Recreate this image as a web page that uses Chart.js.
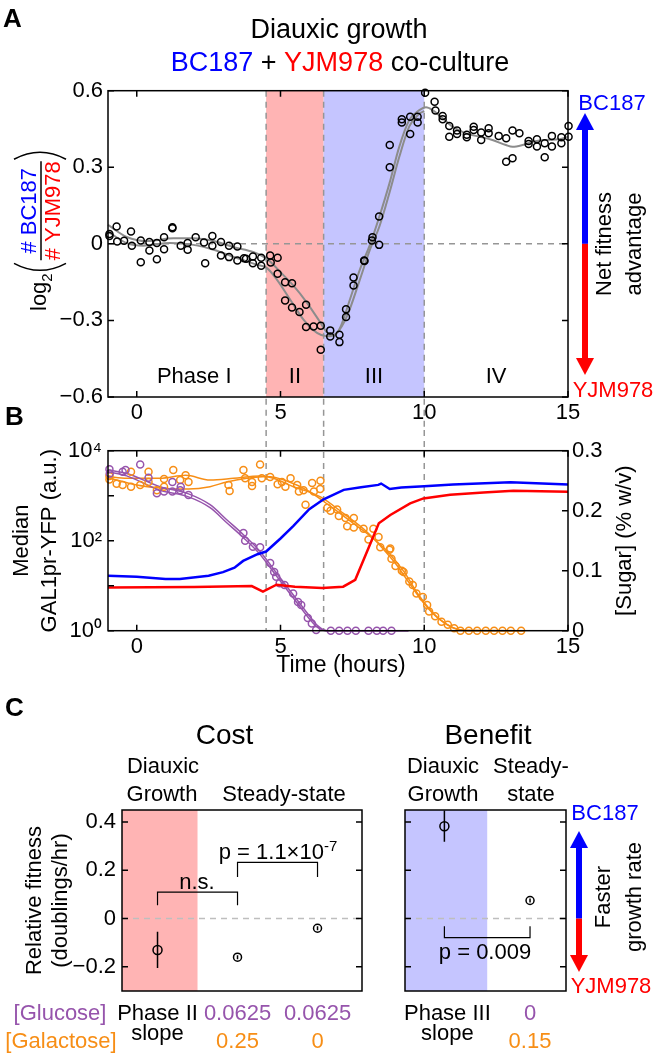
<!DOCTYPE html>
<html>
<head>
<meta charset="utf-8">
<script src="https://cdn.jsdelivr.net/npm/chart.js@4.4.0/dist/chart.umd.min.js"></script>
<style>
body{margin:0;background:#fff;}
#wrap{position:relative;width:656px;height:1058px;overflow:hidden;}
canvas{position:absolute;left:0;}
</style>
</head>
<body>
<div id="wrap">
<canvas id="cA" width="656" height="430" style="top:0px"></canvas>
<canvas id="cB" width="656" height="260" style="top:430px"></canvas>
<canvas id="cC1" width="656" height="368" style="top:690px"></canvas>
<canvas id="cC2" width="656" height="368" style="top:690px"></canvas>
</div>
<script>
// ---- panel A: log2(#BC187/#YJM978), two replicate co-cultures ----
var repT1=[-0.95,-0.70,-0.44,-0.20,0.14,0.44,0.70,0.95,1.24,1.53,1.77,2.05,2.34,2.63,2.93,3.21,3.50,3.80,4.04,4.33,4.64,4.90,5.16,5.40,5.66,5.89,6.15,6.40,6.73,7.05,7.28,7.54,7.91,8.20,8.43,8.80,9.22,9.51,9.77,10.03,10.36,10.64,10.87,11.14,11.48,11.72,11.98,12.24,12.59,12.85,13.07,13.31,13.63,13.92,14.19,14.44,14.77,15.02];
var repR1=[0.039,0.068,0.012,0.048,0.013,0.007,0.003,0.026,0.065,-0.007,0.003,0.026,0.005,0.031,0.007,-0.007,-0.010,-0.058,-0.050,-0.054,-0.046,-0.054,-0.150,-0.154,-0.267,-0.239,-0.324,-0.321,-0.339,-0.356,-0.256,-0.132,-0.065,0.026,0.107,0.387,0.488,0.498,0.498,0.592,0.557,0.501,0.462,0.444,0.427,0.459,0.436,0.453,0.423,0.414,0.444,0.433,0.403,0.410,0.394,0.423,0.418,0.462];
var repT2=[-0.95,-0.68,-0.17,0.14,0.44,0.70,0.95,1.24,1.77,2.38,2.63,2.93,3.21,3.50,3.73,4.04,4.33,4.66,4.90,5.16,5.40,5.89,6.40,6.73,7.05,7.28,7.54,7.92,8.18,8.43,8.80,9.22,9.51,9.77,10.39,10.64,10.87,11.14,11.48,11.72,11.98,12.24,12.85,13.07,13.63,13.92,14.19,14.44,14.77,15.02];
var repR2=[0.031,0.009,-0.007,-0.072,-0.026,-0.060,-0.021,0.061,-0.023,-0.076,-0.007,-0.046,-0.052,-0.065,-0.056,-0.076,-0.086,-0.073,-0.117,-0.222,-0.249,-0.326,-0.415,-0.363,-0.385,-0.287,-0.163,-0.067,0.013,-0.004,0.300,0.475,0.430,0.475,0.522,0.488,0.420,0.430,0.418,0.446,0.407,0.433,0.322,0.335,0.391,0.381,0.339,0.381,0.394,0.420];
var fitT1=[-1,-0.35,0.35,1.28,1.97,2.67,3.37,4.07,4.53,5.0,5.45,5.91,6.38,6.61,6.84,7.08,7.42,7.77,8.12,8.44,8.79,9.13,9.48,9.83,10.06,10.29,10.64,10.98,11.44,11.91,12.37,12.84,13.07,13.42,13.77,14.23,14.7,15];
var fitR1=[0.074,0.027,0.011,0.022,0.022,0.011,-0.013,-0.033,-0.059,-0.111,-0.164,-0.229,-0.307,-0.346,-0.359,-0.327,-0.216,-0.098,-0.001,0.107,0.237,0.38,0.485,0.524,0.535,0.524,0.492,0.459,0.433,0.42,0.407,0.387,0.38,0.387,0.4,0.407,0.41,0.42];
var fitT2=[-1,-0.35,0.23,1.16,1.97,2.67,3.49,4.18,4.53,4.88,5.34,5.8,6.27,6.61,6.96,7.31,7.77,8.12,8.44,8.79,9.13,9.48,9.83,10.0];
var fitR2=[0.048,0.003,-0.007,0.003,-0.004,-0.023,-0.056,-0.082,-0.095,-0.141,-0.219,-0.297,-0.349,-0.362,-0.349,-0.284,-0.137,-0.02,0.068,0.2,0.34,0.46,0.51,0.52];
var phaseEdges=[-1,4.5,6.5,10,15];
var phaseNames=['Phase I','II','III','IV'];
var phaseTextX=[2,5.5,8.25,12.5];
var timeTicks=[0,5,10,15];
var aYTicks=[-0.6,-0.3,0,0.3,0.6];
var aYLabels=['\u22120.6','\u22120.3','0','0.3','0.6'];

// ---- panel B: GAL1pr-YFP (left, log) and sugars (right, % w/v) ----
var bcT=[-1,0,1,1.5,2.5,3,3.4,3.7,4.2,4.5,5,5.45,6,6.5,7.2,7.8,8.4,8.5,8.8,9.2,10,11,13,15];
var bcYfp=[16.6,15.8,14.1,14.1,16.6,20,25.1,35.5,50.1,57.5,112,214,501,832,1349,1549,1738,1862,1413,1514,1622,1778,1995,1778];
var yjmT=[-1,2,4.0,4.39,4.86,5.5,6.45,7.18,7.6,8.42,8.82,9.51,9.97,10.9,12.06,13.1,15];
var yjmYfp=[9.1,9.3,9.8,7.4,10.5,9.5,8.9,9.5,13.5,245,372,676,871,1047,1175,1288,1230];
var gluT1=[-0.95,-0.49,0.12,0.41,0.95,1.24,1.51,1.80,3.71,4.04,4.64,4.97,5.44,5.72,6.09,6.75,7.33,8.06,8.57];
var glu1=[0.269,0.265,0.277,0.255,0.232,0.248,0.234,0.226,0.163,0.140,0.113,0.079,0.062,0.043,0.012,0,0,0,0];
var gluT2=[-0.94,-0.39,0.70,1.24,1.53,3.77,4.29,4.78,4.85,5.14,5.61,5.95,6.24,7.04,7.62,8.35,8.86];
var glu2=[0.262,0.268,0.229,0.232,0.240,0.150,0.139,0.098,0.090,0.076,0.048,0.021,0.001,0,0,0,0];
var gluFitT=[-1,-0.35,0.81,1.8,2.55,3.13,3.71,4.29,4.8,5.2,5.6,6.0,6.3,6.6,9.45];
var gluFit1=[0.265,0.258,0.234,0.223,0.205,0.180,0.155,0.127,0.095,0.070,0.045,0.020,0.005,0,0];
var gluFit2=[0.268,0.262,0.240,0.228,0.210,0.185,0.160,0.132,0.100,0.075,0.050,0.025,0.008,0,0];
var galT1=[-0.95,-0.49,-0.20,0.12,0.41,0.70,0.95,1.27,1.51,1.80,3.19,3.71,4.01,4.29,4.64,4.90,5.17,5.58,5.87,6.10,6.39,6.63,6.97,7.26,7.55,7.89,8.23,8.47,8.82,9.00,9.28,9.60,9.95,10.17,10.60,11.04,11.26,11.84,12.43,13.01];
var gal1=[0.258,0.243,0.265,0.243,0.265,0.234,0.253,0.268,0.251,0.248,0.243,0.268,0.248,0.277,0.256,0.244,0.240,0.243,0.210,0.246,0.250,0.205,0.202,0.188,0.188,0.170,0.170,0.139,0.137,0.108,0.098,0.076,0.056,0.032,0.015,0.004,0,0,0,0];
var galT2=[-0.95,-0.70,-0.20,0.41,0.95,1.70,3.23,3.77,4.01,4.35,5.05,5.35,5.64,5.80,6.16,6.38,6.74,7.03,7.32,7.55,8.06,8.41,8.79,8.86,9.22,9.48,9.73,10.10,10.38,10.82,11.55,12.14,12.72,13.37];
var gal2=[0.252,0.245,0.240,0.248,0.240,0.259,0.233,0.254,0.241,0.254,0.248,0.254,0.232,0.234,0.232,0.236,0.200,0.191,0.174,0.172,0.152,0.156,0.135,0.120,0.100,0.082,0.062,0.043,0.024,0.010,0,0,0,0];
var galFitT1=[-1,-0.35,0.81,1.7,2.55,3.37,4.29,4.75,5.45,6.39,7.2,8.0,8.5,9.0,9.5,10.0,10.5,11.0,11.5,13.5];
var galFit1=[0.257,0.254,0.254,0.259,0.251,0.254,0.258,0.254,0.240,0.223,0.195,0.165,0.140,0.112,0.078,0.045,0.020,0.005,0,0];
var galFitT2=[-1,0,0.81,1.8,2.55,3.13,3.83,4.52,5.2,6.0,6.8,7.5,8.2,8.8,9.3,9.8,10.3,10.8,11.3,13.5];
var galFit2=[0.255,0.243,0.238,0.236,0.240,0.248,0.254,0.257,0.250,0.232,0.205,0.180,0.155,0.128,0.098,0.060,0.030,0.010,0.001,0];
var yfpTicks=[1,100,10000];
var yfpLabels=['10\u2070','10\u00b2','10\u2074'];
var yfpMinor=[10,1000];
var sugarTicks=[0,0.1,0.2,0.3];
var sugarLabels=['0','0.1','0.2','0.3'];

// ---- panel C: relative fitness ----
var costX=[1,2,3];
var costFit=[-0.13,-0.16,-0.04];
var costErr=[0.075,0.008,0.008];
var costGlucose=['Phase II','0.0625','0.0625'];
var costGalactose=['slope','0.25','0'];
var benefitX=[1,2];
var benefitFit=[0.383,0.075];
var benefitErr=[0.065,0.008];
var benefitGlucose=['Phase III','0'];
var benefitGalactose=['slope','0.15'];
var cYTicks=[-0.2,0,0.2,0.4];
var cYLabels=['\u22120.2','0','0.2','0.4'];

var FAM='"Liberation Sans", Arial, Helvetica, sans-serif';
var BLUE='#0000ff', RED='#ff0000', GREY='rgb(140,140,140)', DASHC='rgb(150,150,150)';
var PURPLE='rgb(150,84,172)', ORANGE='rgb(247,142,22)';
var PINK='rgb(255,180,180)', LILAC='rgb(197,197,255)';

function F(sz,b){return (b?'bold ':'')+sz+'px '+FAM;}
function pts(xs,ys){return xs.map(function(x,i){return {x:x,y:ys[i]};});}
function fix(vals){return function(s){s.ticks=vals.map(function(v){return {value:v};});};}
function lab(vals,labels){return function(v){var i=vals.indexOf(v);return i<0?'':labels[i];};}
function circles(d,col,r,axis){return {data:d,showLine:false,pointRadius:r||3.5,pointBorderWidth:1.5,pointBorderColor:col,pointBackgroundColor:'rgba(0,0,0,0)',borderColor:col,clip:false,yAxisID:axis||'y'};}
function curve(d,col,w,axis,smooth){return {data:d,showLine:true,pointRadius:0,borderColor:col,borderWidth:w,cubicInterpolationMode:smooth?'monotone':'default',tension:0,clip:false,yAxisID:axis||'y'};}

function txt(ctx,s,x,y,font,col,align){ctx.save();ctx.font=font;ctx.fillStyle=col||'#000';ctx.textAlign=align||'center';ctx.textBaseline='alphabetic';ctx.fillText(s,x,y);ctx.restore();}
function vtxt(ctx,s,x,y,font,col){ctx.save();ctx.translate(x,y);ctx.rotate(-Math.PI/2);ctx.font=font;ctx.fillStyle=col||'#000';ctx.textAlign='center';ctx.textBaseline='alphabetic';ctx.fillText(s,0,0);ctx.restore();}
function rich(ctx,parts,x,y){
  ctx.save();var w=0;
  parts.forEach(function(p){ctx.font=p[2];w+=ctx.measureText(p[0]).width;});
  var cx=x-w/2;
  parts.forEach(function(p){ctx.font=p[2];ctx.fillStyle=p[1];ctx.textAlign='left';ctx.textBaseline='alphabetic';ctx.fillText(p[0],cx,y+(p[3]||0));cx+=ctx.measureText(p[0]).width;});
  ctx.restore();
}
function dashed(ctx,x0,y0,x1,y1,col,w){ctx.save();ctx.strokeStyle=col;ctx.lineWidth=w||1.5;ctx.setLineDash([6,5]);ctx.beginPath();ctx.moveTo(x0,y0);ctx.lineTo(x1,y1);ctx.stroke();ctx.restore();}
function vArrow(ctx,x,yTop,yMid,yBot){
  var hw=9,hl=17,sw=6;
  ctx.save();ctx.fillStyle=BLUE;
  ctx.fillRect(x-sw/2,yTop+hl-1,sw,yMid-yTop-hl+1);
  ctx.beginPath();ctx.moveTo(x,yTop);ctx.lineTo(x-hw,yTop+hl);ctx.lineTo(x+hw,yTop+hl);ctx.closePath();ctx.fill();
  ctx.fillStyle=RED;
  ctx.fillRect(x-sw/2,yMid,sw,yBot-hl-yMid+1);
  ctx.beginPath();ctx.moveTo(x,yBot);ctx.lineTo(x-hw,yBot-hl);ctx.lineTo(x+hw,yBot-hl);ctx.closePath();ctx.fill();
  ctx.restore();
}
// box round the plot area plus inward MATLAB-style ticks
function box(c,xs,yl,yr){
  var ctx=c.ctx,a=c.chartArea,L=6;
  ctx.save();ctx.strokeStyle='#000';ctx.lineWidth=1.5;
  ctx.strokeRect(a.left,a.top,a.right-a.left,a.bottom-a.top);
  ctx.beginPath();
  (xs||[]).forEach(function(v){var p=c.scales.x.getPixelForValue(v);ctx.moveTo(p,a.bottom);ctx.lineTo(p,a.bottom-L);ctx.moveTo(p,a.top);ctx.lineTo(p,a.top+L);});
  if(yl){yl[1].forEach(function(v){var p=c.scales[yl[0]].getPixelForValue(v);ctx.moveTo(a.left,p);ctx.lineTo(a.left+L,p);});}
  if(yr){yr[1].forEach(function(v){var p=c.scales[yr[0]].getPixelForValue(v);ctx.moveTo(a.right,p);ctx.lineTo(a.right-L,p);});}
  ctx.stroke();ctx.restore();
}
function paren(ctx,u,v0,v1,dir){
  var m=(v0+v1)/2;ctx.beginPath();
  if(dir>0){ctx.moveTo(u+7,v0);ctx.quadraticCurveTo(u-7,m,u+7,v1);}
  else{ctx.moveTo(u,v0);ctx.quadraticCurveTo(u+14,m,u,v1);}
  ctx.stroke();
}
var tickFont={size:22,family:FAM};

// ---------------- panel A ----------------
var panelA={id:'panelA',
  beforeDraw:function(c){
    var ctx=c.ctx,a=c.chartArea,x=c.scales.x,y=c.scales.y;
    for(var i=0;i<phaseNames.length;i++){
      var fill=[null,PINK,LILAC,null][i];
      if(fill){var x0=x.getPixelForValue(phaseEdges[i]),x1=x.getPixelForValue(phaseEdges[i+1]);ctx.fillStyle=fill;ctx.fillRect(x0,a.top,x1-x0,a.bottom-a.top);}
    }
    var z=y.getPixelForValue(0);
    dashed(ctx,a.left,z,a.right,z,DASHC);
    [phaseEdges[1],phaseEdges[2],phaseEdges[3]].forEach(function(v){var p=x.getPixelForValue(v);dashed(ctx,p,a.top,p,c.height,DASHC);});
  },
  afterDatasetsDraw:function(c){box(c,timeTicks,['y',aYTicks],['y',aYTicks]);},
  afterDraw:function(c){
    var ctx=c.ctx,x=c.scales.x;
    txt(ctx,'A',3,27,F(26,true),'#000','left');
    txt(ctx,'B',5,425,F(26,true),'#000','left');
    txt(ctx,'Diauxic growth',339,38,F(27));
    rich(ctx,[['BC187',BLUE,F(27)],[' + ','#000',F(27)],['YJM978',RED,F(27)],[' co-culture','#000',F(27)]],340,71);
    phaseNames.forEach(function(n,i){txt(ctx,n,x.getPixelForValue(phaseTextX[i]),383,F(22));});
    vArrow(ctx,585,113,c.scales.y.getPixelForValue(0),375);
    txt(ctx,'BC187',612,110,F(22),BLUE);
    txt(ctx,'YJM978',613,397,F(22),RED);
    vtxt(ctx,'Net fitness',611,244,F(22));
    vtxt(ctx,'advantage',641,244,F(22));
    // y label: log2( #BC187 / #YJM978 )
    ctx.save();ctx.translate(0,244);ctx.rotate(-Math.PI/2);
    ctx.textAlign='left';ctx.textBaseline='alphabetic';ctx.fillStyle='#000';ctx.strokeStyle='#000';ctx.lineWidth=1.5;
    var u=-67;
    ctx.font=F(22);ctx.fillText('log',u,46);u+=ctx.measureText('log').width;
    ctx.font=F(15);ctx.fillText('2',u,52);u+=ctx.measureText('2').width+3;
    paren(ctx,u,14,66,1);u+=10;
    ctx.font=F(22);
    var w1=ctx.measureText('# BC187').width,w2=ctx.measureText('# YJM978').width,w=Math.max(w1,w2);
    ctx.fillStyle=BLUE;ctx.fillText('# BC187',u+(w-w1)/2,36);
    ctx.fillStyle=RED;ctx.fillText('# YJM978',u+(w-w2)/2,60);
    ctx.beginPath();ctx.moveTo(u,41);ctx.lineTo(u+w,41);ctx.stroke();
    u+=w+2;paren(ctx,u,14,66,-1);
    ctx.restore();
  }
};
new Chart(document.getElementById('cA'),{
  type:'scatter',
  data:{datasets:[
    circles(pts(repT1,repR1),'#000'),
    circles(pts(repT2,repR2),'#000'),
    curve(pts(fitT1,fitR1),GREY,2,'y',true),
    curve(pts(fitT2,fitR2),GREY,2,'y',true)
  ]},
  options:{
    responsive:false,animation:false,events:[],
    layout:{padding:{left:0,top:90.7,right:88,bottom:0}},
    plugins:{legend:{display:false},tooltip:{enabled:false}},
    scales:{
      x:{type:'linear',min:-1,max:15,afterBuildTicks:fix(timeTicks),afterFit:function(s){s.height=33;},
        grid:{display:false,drawTicks:false},border:{display:false},
        ticks:{font:tickFont,color:'#000',padding:3,maxRotation:0,autoSkip:false}},
      y:{type:'linear',min:-0.6,max:0.6,afterBuildTicks:fix(aYTicks),afterFit:function(s){s.width=108;},
        grid:{display:false,drawTicks:false},border:{display:false},
        ticks:{font:tickFont,color:'#000',padding:5,autoSkip:false,callback:lab(aYTicks,aYLabels)}}
    }
  },
  plugins:[panelA]
});

// ---------------- panel B ----------------
var TOPB=430;
var panelB={id:'panelB',
  beforeDraw:function(c){
    var ctx=c.ctx,a=c.chartArea,x=c.scales.x;
    [phaseEdges[1],phaseEdges[2],phaseEdges[3]].forEach(function(v){var p=x.getPixelForValue(v);dashed(ctx,p,0,p,a.bottom,DASHC);});
  },
  afterDatasetsDraw:function(c){box(c,timeTicks,['y',yfpTicks.concat(yfpMinor)],['y2',sugarTicks]);},
  afterDraw:function(c){
    var ctx=c.ctx;ctx.save();ctx.translate(0,-TOPB);
    txt(ctx,'Time (hours)',341,672,F(23));
    vtxt(ctx,'Median',28,540.7,F(22));
    vtxt(ctx,'GAL1pr-YFP (a.u.)',56,540.7,F(22));
    vtxt(ctx,'[Sugar] (% w/v)',631,540.7,F(22));
    ctx.restore();
  }
};
new Chart(document.getElementById('cB'),{
  type:'scatter',
  data:{datasets:[
    curve(pts(bcT,bcYfp),BLUE,2.5,'y',false),
    curve(pts(yjmT,yjmYfp),RED,2.5,'y',false),
    circles(pts(gluT1,glu1),PURPLE,3.5,'y2'),
    circles(pts(gluT2,glu2),PURPLE,3.5,'y2'),
    circles(pts(galT1,gal1),ORANGE,3.5,'y2'),
    circles(pts(galT2,gal2),ORANGE,3.5,'y2'),
    curve(pts(gluFitT,gluFit1),PURPLE,1.5,'y2',true),
    curve(pts(gluFitT,gluFit2),PURPLE,1.5,'y2',true),
    curve(pts(galFitT1,galFit1),ORANGE,1.5,'y2',true),
    curve(pts(galFitT2,galFit2),ORANGE,1.5,'y2',true)
  ]},
  options:{
    responsive:false,animation:false,events:[],
    layout:{padding:{left:0,top:20.7,right:0,bottom:0}},
    plugins:{legend:{display:false},tooltip:{enabled:false}},
    scales:{
      x:{type:'linear',min:-1,max:15,afterBuildTicks:fix(timeTicks),afterFit:function(s){s.height=59.3;},
        grid:{display:false,drawTicks:false},border:{display:false},
        ticks:{font:tickFont,color:'#000',padding:3,maxRotation:0,autoSkip:false}},
      y:{type:'logarithmic',position:'left',min:1,max:10000,afterBuildTicks:fix(yfpTicks),afterFit:function(s){s.width=108;},
        grid:{display:false,drawTicks:false},border:{display:false},
        ticks:{font:tickFont,color:'#000',padding:6,autoSkip:false,callback:lab(yfpTicks,yfpLabels)}},
      y2:{type:'linear',position:'right',min:0,max:0.3,afterBuildTicks:fix(sugarTicks),afterFit:function(s){s.width=88;},
        grid:{display:false,drawTicks:false},border:{display:false},
        ticks:{font:tickFont,color:'#000',padding:4,autoSkip:false,callback:lab(sugarTicks,sugarLabels)}}
    }
  },
  plugins:[panelB]
});

// ---------------- panel C ----------------
var TOPC=690;
function errBars(c,xs,ys,es){
  var ctx=c.ctx,x=c.scales.x,y=c.scales.y;
  ctx.save();ctx.strokeStyle='#000';ctx.lineWidth=1.5;ctx.beginPath();
  xs.forEach(function(v,i){var p=x.getPixelForValue(v);ctx.moveTo(p,y.getPixelForValue(ys[i]-es[i]));ctx.lineTo(p,y.getPixelForValue(ys[i]+es[i]));});
  ctx.stroke();ctx.restore();
}
function bracket(c,x0,x1,yBar,yLeg){
  var ctx=c.ctx,x=c.scales.x,y=c.scales.y;
  var p0=x.getPixelForValue(x0),p1=x.getPixelForValue(x1),b=y.getPixelForValue(yBar),l=y.getPixelForValue(yLeg);
  ctx.save();ctx.strokeStyle='#000';ctx.lineWidth=1.2;ctx.beginPath();
  ctx.moveTo(p0,l);ctx.lineTo(p0,b);ctx.lineTo(p1,b);ctx.lineTo(p1,l);ctx.stroke();ctx.restore();
}
function cBack(fill){
  return function(c){
    var ctx=c.ctx,a=c.chartArea,x=c.scales.x,y=c.scales.y;
    var x1=x.getPixelForValue(1.5);ctx.fillStyle=fill;ctx.fillRect(a.left,a.top,x1-a.left,a.bottom-a.top);
    var z=y.getPixelForValue(0);dashed(ctx,a.left,z,a.right,z,'rgb(190,190,190)');
  };
}
var panelC1={id:'panelC1',
  beforeDatasetsDraw:cBack(PINK),
  afterDatasetsDraw:function(c){
    errBars(c,costX,costFit,costErr);
    box(c,null,['y',cYTicks],['y',cYTicks]);
    bracket(c,1,2,0.11,0.055);
    bracket(c,2,3,0.233,0.172);
  },
  afterDraw:function(c){
    var ctx=c.ctx,x=c.scales.x;ctx.save();ctx.translate(0,-TOPC);
    txt(ctx,'C',5,716,F(26,true),'#000','left');
    txt(ctx,'Cost',224.5,744,F(28));
    txt(ctx,'Diauxic',163,773,F(22));
    txt(ctx,'Growth',162,801,F(22));
    txt(ctx,'Steady-state',284,801,F(22));
    txt(ctx,'n.s.',197,889,F(22));
    rich(ctx,[['p = 1.1\u00d710','#000',F(22)],['-7','#000',F(15),-8]],278,859);
    vtxt(ctx,'Relative fitness',41,900.5,F(22));
    vtxt(ctx,'(doublings/hr)',67,900.5,F(22));
    txt(ctx,'[Glucose]',60,1020,F(22),PURPLE);
    txt(ctx,'[Galactose]',61,1048,F(22),ORANGE);
    costX.forEach(function(v,i){
      var p=x.getPixelForValue(v);
      txt(ctx,costGlucose[i],p,1020,F(22),i===0?'#000':PURPLE);
      txt(ctx,costGalactose[i],p,i===0?1040:1048,F(22),i===0?'#000':ORANGE);
    });
    ctx.restore();
  }
};
new Chart(document.getElementById('cC1'),{
  type:'scatter',
  data:{datasets:[{data:pts(costX,costFit),showLine:false,pointRadius:[4.5,4,4],pointBorderWidth:1.5,pointBorderColor:'#000',pointBackgroundColor:'rgba(0,0,0,0)',clip:false}]},
  options:{
    responsive:false,animation:false,events:[],
    layout:{padding:{left:0,top:120,right:294,bottom:67}},
    plugins:{legend:{display:false},tooltip:{enabled:false}},
    scales:{
      x:{type:'linear',min:0.556,max:3.556,display:false},
      y:{type:'linear',min:-0.3,max:0.45,afterBuildTicks:fix(cYTicks),afterFit:function(s){s.width=122;},
        grid:{display:false,drawTicks:false},border:{display:false},
        ticks:{font:tickFont,color:'#000',padding:6,autoSkip:false,callback:lab(cYTicks,cYLabels)}}
    }
  },
  plugins:[panelC1]
});

var panelC2={id:'panelC2',
  beforeDatasetsDraw:cBack(LILAC),
  afterDatasetsDraw:function(c){
    errBars(c,benefitX,benefitFit,benefitErr);
    box(c,null,['y',cYTicks],['y',cYTicks]);
    bracket(c,1,2,-0.079,-0.032);
  },
  afterDraw:function(c){
    var ctx=c.ctx,x=c.scales.x;ctx.save();ctx.translate(0,-TOPC);
    txt(ctx,'Benefit',488,744,F(28));
    txt(ctx,'Diauxic',443,773,F(22));
    txt(ctx,'Growth',443,801,F(22));
    txt(ctx,'Steady-',531,773,F(22));
    txt(ctx,'state',531,801,F(22));
    txt(ctx,'p = 0.009',485,959,F(22));
    benefitX.forEach(function(v,i){
      var p=x.getPixelForValue(v)+(i===0?3:0);
      txt(ctx,benefitGlucose[i],p,1020,F(22),i===0?'#000':PURPLE);
      txt(ctx,benefitGalactose[i],p,i===0?1040:1048,F(22),i===0?'#000':ORANGE);
    });
    vArrow(ctx,579,831,c.scales.y.getPixelForValue(0)+TOPC,972);
    txt(ctx,'BC187',605,820,F(22),BLUE);
    txt(ctx,'YJM978',611,993,F(22),RED);
    vtxt(ctx,'Faster',610,897,F(22));
    vtxt(ctx,'growth rate',641,897,F(22));
    ctx.restore();
  }
};
new Chart(document.getElementById('cC2'),{
  type:'scatter',
  data:{datasets:[{data:pts(benefitX,benefitFit),showLine:false,pointRadius:[4.5,4],pointBorderWidth:1.5,pointBorderColor:'#000',pointBackgroundColor:'rgba(0,0,0,0)',clip:false}]},
  options:{
    responsive:false,animation:false,events:[],
    layout:{padding:{left:405,top:120,right:90,bottom:67}},
    plugins:{legend:{display:false},tooltip:{enabled:false}},
    scales:{
      x:{type:'linear',min:0.54,max:2.42,display:false},
      y:{type:'linear',min:-0.3,max:0.45,display:false}
    }
  },
  plugins:[panelC2]
});
</script>
</body>
</html>
